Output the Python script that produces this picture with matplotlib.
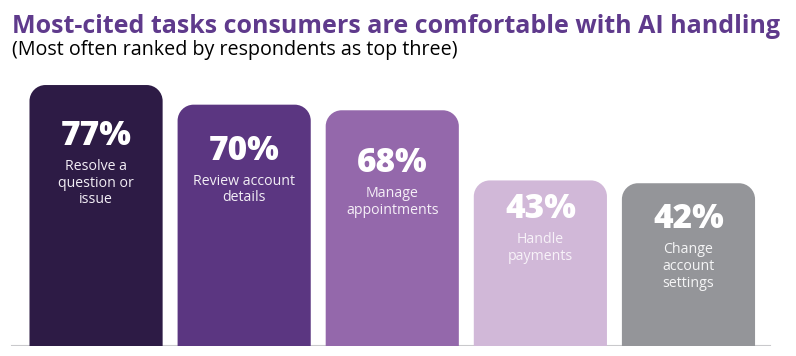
import matplotlib
matplotlib.use("Agg")
import matplotlib.pyplot as plt
import numpy as np
from matplotlib.path import Path
from matplotlib.patches import PathPatch

# ---- data ----
categories = ["Resolve a\nquestion or\nissue", "Review account\ndetails",
              "Manage\nappointments", "Handle\npayments",
              "Change\naccount\nsettings"]
values = [77, 70, 68, 43, 42]
value_labels = ["77%", "70%", "68%", "43%", "42%"]
colors = ["#2d1b45", "#5b3681", "#9468ab", "#d1b8d8", "#949599"]
label_colors = ["#f2eef5", "#f2eef5", "#f5eff7", "#f7f2f8", "#f5f5f6"]

title = "Most-cited tasks consumers are comfortable with AI handling"
subtitle = "(Most often ranked by respondents as top three)"

# ---- layout ----
W, H, DPI = 796, 356, 100
base = -16.0          # visual baseline of the bars (bars start below zero)
ytop = 107.3
x_left, x_right = -0.6486, 4.726
bar_w = 0.899
radius_px = 16
pct_offset_px = [60, 55, 62, 38, 45]   # from bar top to value baseline

fig = plt.figure(figsize=(W / DPI, H / DPI), dpi=DPI)
fig.patch.set_facecolor("white")
ax_bottom = (H - 346) / H
ax = fig.add_axes([0, ax_bottom, 1, 1 - ax_bottom])
ax.set_xlim(x_left, x_right)
ax.set_ylim(base, ytop)
ax.axis("off")

ax_w_px = W
ax_h_px = H * (1 - ax_bottom)
dx_per_px = (x_right - x_left) / ax_w_px
dy_per_px = (ytop - base) / ax_h_px

def rounded_top_bar(xc, top, width, bottom, rx, ry):
    x0, x1 = xc - width / 2, xc + width / 2
    k = 0.5523
    verts = [
        (x0, bottom), (x0, top - ry),
        (x0, top - ry + k * ry), (x0 + rx - k * rx, top), (x0 + rx, top),
        (x1 - rx, top),
        (x1 - rx + k * rx, top), (x1, top - ry + k * ry), (x1, top - ry),
        (x1, bottom), (x0, bottom),
    ]
    codes = [Path.MOVETO, Path.LINETO,
             Path.CURVE4, Path.CURVE4, Path.CURVE4,
             Path.LINETO,
             Path.CURVE4, Path.CURVE4, Path.CURVE4,
             Path.LINETO, Path.CLOSEPOLY]
    return Path(verts, codes)

xs = np.arange(len(values))
rx = radius_px * dx_per_px
ry = radius_px * dy_per_px
for i, (x, v) in enumerate(zip(xs, values)):
    p = rounded_top_bar(x, v, bar_w, base, rx, ry)
    ax.add_patch(PathPatch(p, facecolor=colors[i], edgecolor="none"))
    ybase = v - pct_offset_px[i] * dy_per_px
    ax.text(x, ybase, value_labels[i], ha="center", va="baseline",
            color="white", fontsize=24, fontweight="heavy", family="Open Sans")
    ax.text(x, ybase - 14 * dy_per_px, categories[i], ha="center", va="top",
            color=label_colors[i], fontsize=10.2, family="Open Sans",
            linespacing=1.15)

# baseline rule
ax.axhline(base, xmin=12 / W, xmax=770 / W, color="#c9c9cc", lw=1.5,
           zorder=0.5)

fig.text(12 / W, 1 - 33 / H, title, ha="left", va="baseline",
         color="#5f3a8c", fontsize=18, fontweight="bold", family="Open Sans")
fig.text(12 / W, 1 - 55 / H, subtitle, ha="left", va="baseline",
         color="black", fontsize=14.2, family="Open Sans")

fig.savefig("out.png", dpi=DPI)
